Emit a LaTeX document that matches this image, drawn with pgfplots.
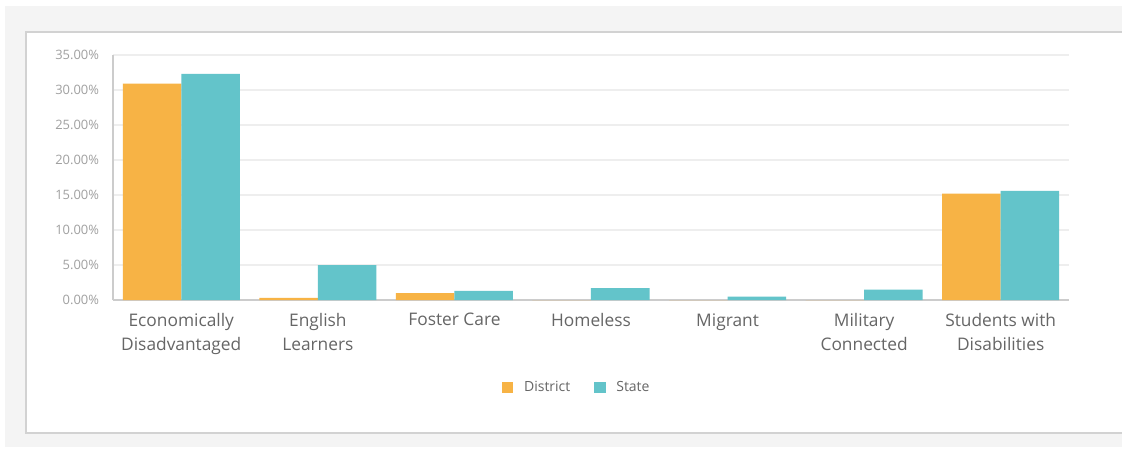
\documentclass[border=0pt]{standalone}
\usepackage{pgfplots}
\pgfplotsset{compat=1.18}
\usepackage{fontspec}
\setmainfont{Open Sans}
\definecolor{cOrange}{HTML}{F7B345}
\definecolor{cTeal}{HTML}{63C4CA}
\definecolor{bgGray}{HTML}{F4F4F4}
\definecolor{panelBorder}{HTML}{D2D2D2}
\definecolor{gridGray}{HTML}{EEEEEE}
\definecolor{axisGray}{HTML}{CCCCCC}
\definecolor{tickGray}{HTML}{A0A0A0}
\definecolor{labelGray}{HTML}{666666}
\begin{document}
\begin{tikzpicture}
\useasboundingbox (0,0) rectangle (841.5pt,340.5pt);
\fill[white] (0,0) rectangle (841.5pt,340.5pt);
\fill[bgGray] (3.75pt,5.25pt) rectangle (841.5pt,336pt);
\filldraw[fill=white,draw=panelBorder,line width=1.1pt] (19.5pt,15.75pt) rectangle (846pt,316.5pt);
\begin{axis}[
  at={(84.75pt,115.5pt)}, anchor=south west,
  scale only axis, width=717pt, height=183.75pt,
  ybar=0pt, bar width=43.9pt,
  xmin=-0.5, xmax=6.5, ymin=0, ymax=35,
  xtick={0,1,2,3,4,5,6},
  xticklabels={{Economically\\Disadvantaged},{English\\Learners},{Foster Care},{Homeless},{Migrant},{Military\\Connected},{Students with\\Disabilities}},
  xticklabel style={align=center, font=\fontsize{13}{18}\selectfont, text=labelGray, anchor=north, yshift=-6.5pt},
  ytick={0,5,10,15,20,25,30,35},
  yticklabel={\pgfmathprintnumber[fixed,fixed zerofill,precision=2]{\tick}\%},
  yticklabel style={font=\fontsize{9.7}{11}\selectfont, text=tickGray, xshift=-7pt},
  /pgf/number format/assume math mode=true,
  major tick length=0pt,
  axis x line*=bottom, axis y line*=left,
  axis line style={axisGray, line width=0.9pt},
  ymajorgrids, grid style={gridGray, line width=0.8pt},
  legend columns=2,
  legend style={at={(0.4855,-0.357)}, anchor=center, draw=none, fill=none,
    font=\fontsize{10.5}{12}\selectfont, text=labelGray,
    /tikz/every odd column/.append style={column sep=6pt},
    /tikz/every even column/.append style={column sep=16pt}},
  legend image code/.code={\fill[#1] (0pt,-4.1pt) rectangle (8.5pt,4.1pt);},
]
\addplot[fill=cOrange, draw=none] coordinates {(0,30.9) (1,0.3) (2,1.0) (3,0) (4,0) (5,0) (6,15.2)};
\addplot[fill=cTeal, draw=none] coordinates {(0,32.3) (1,5.0) (2,1.3) (3,1.7) (4,0.5) (5,1.5) (6,15.6)};
\legend{District, State}
\end{axis}
\end{tikzpicture}
\end{document}
